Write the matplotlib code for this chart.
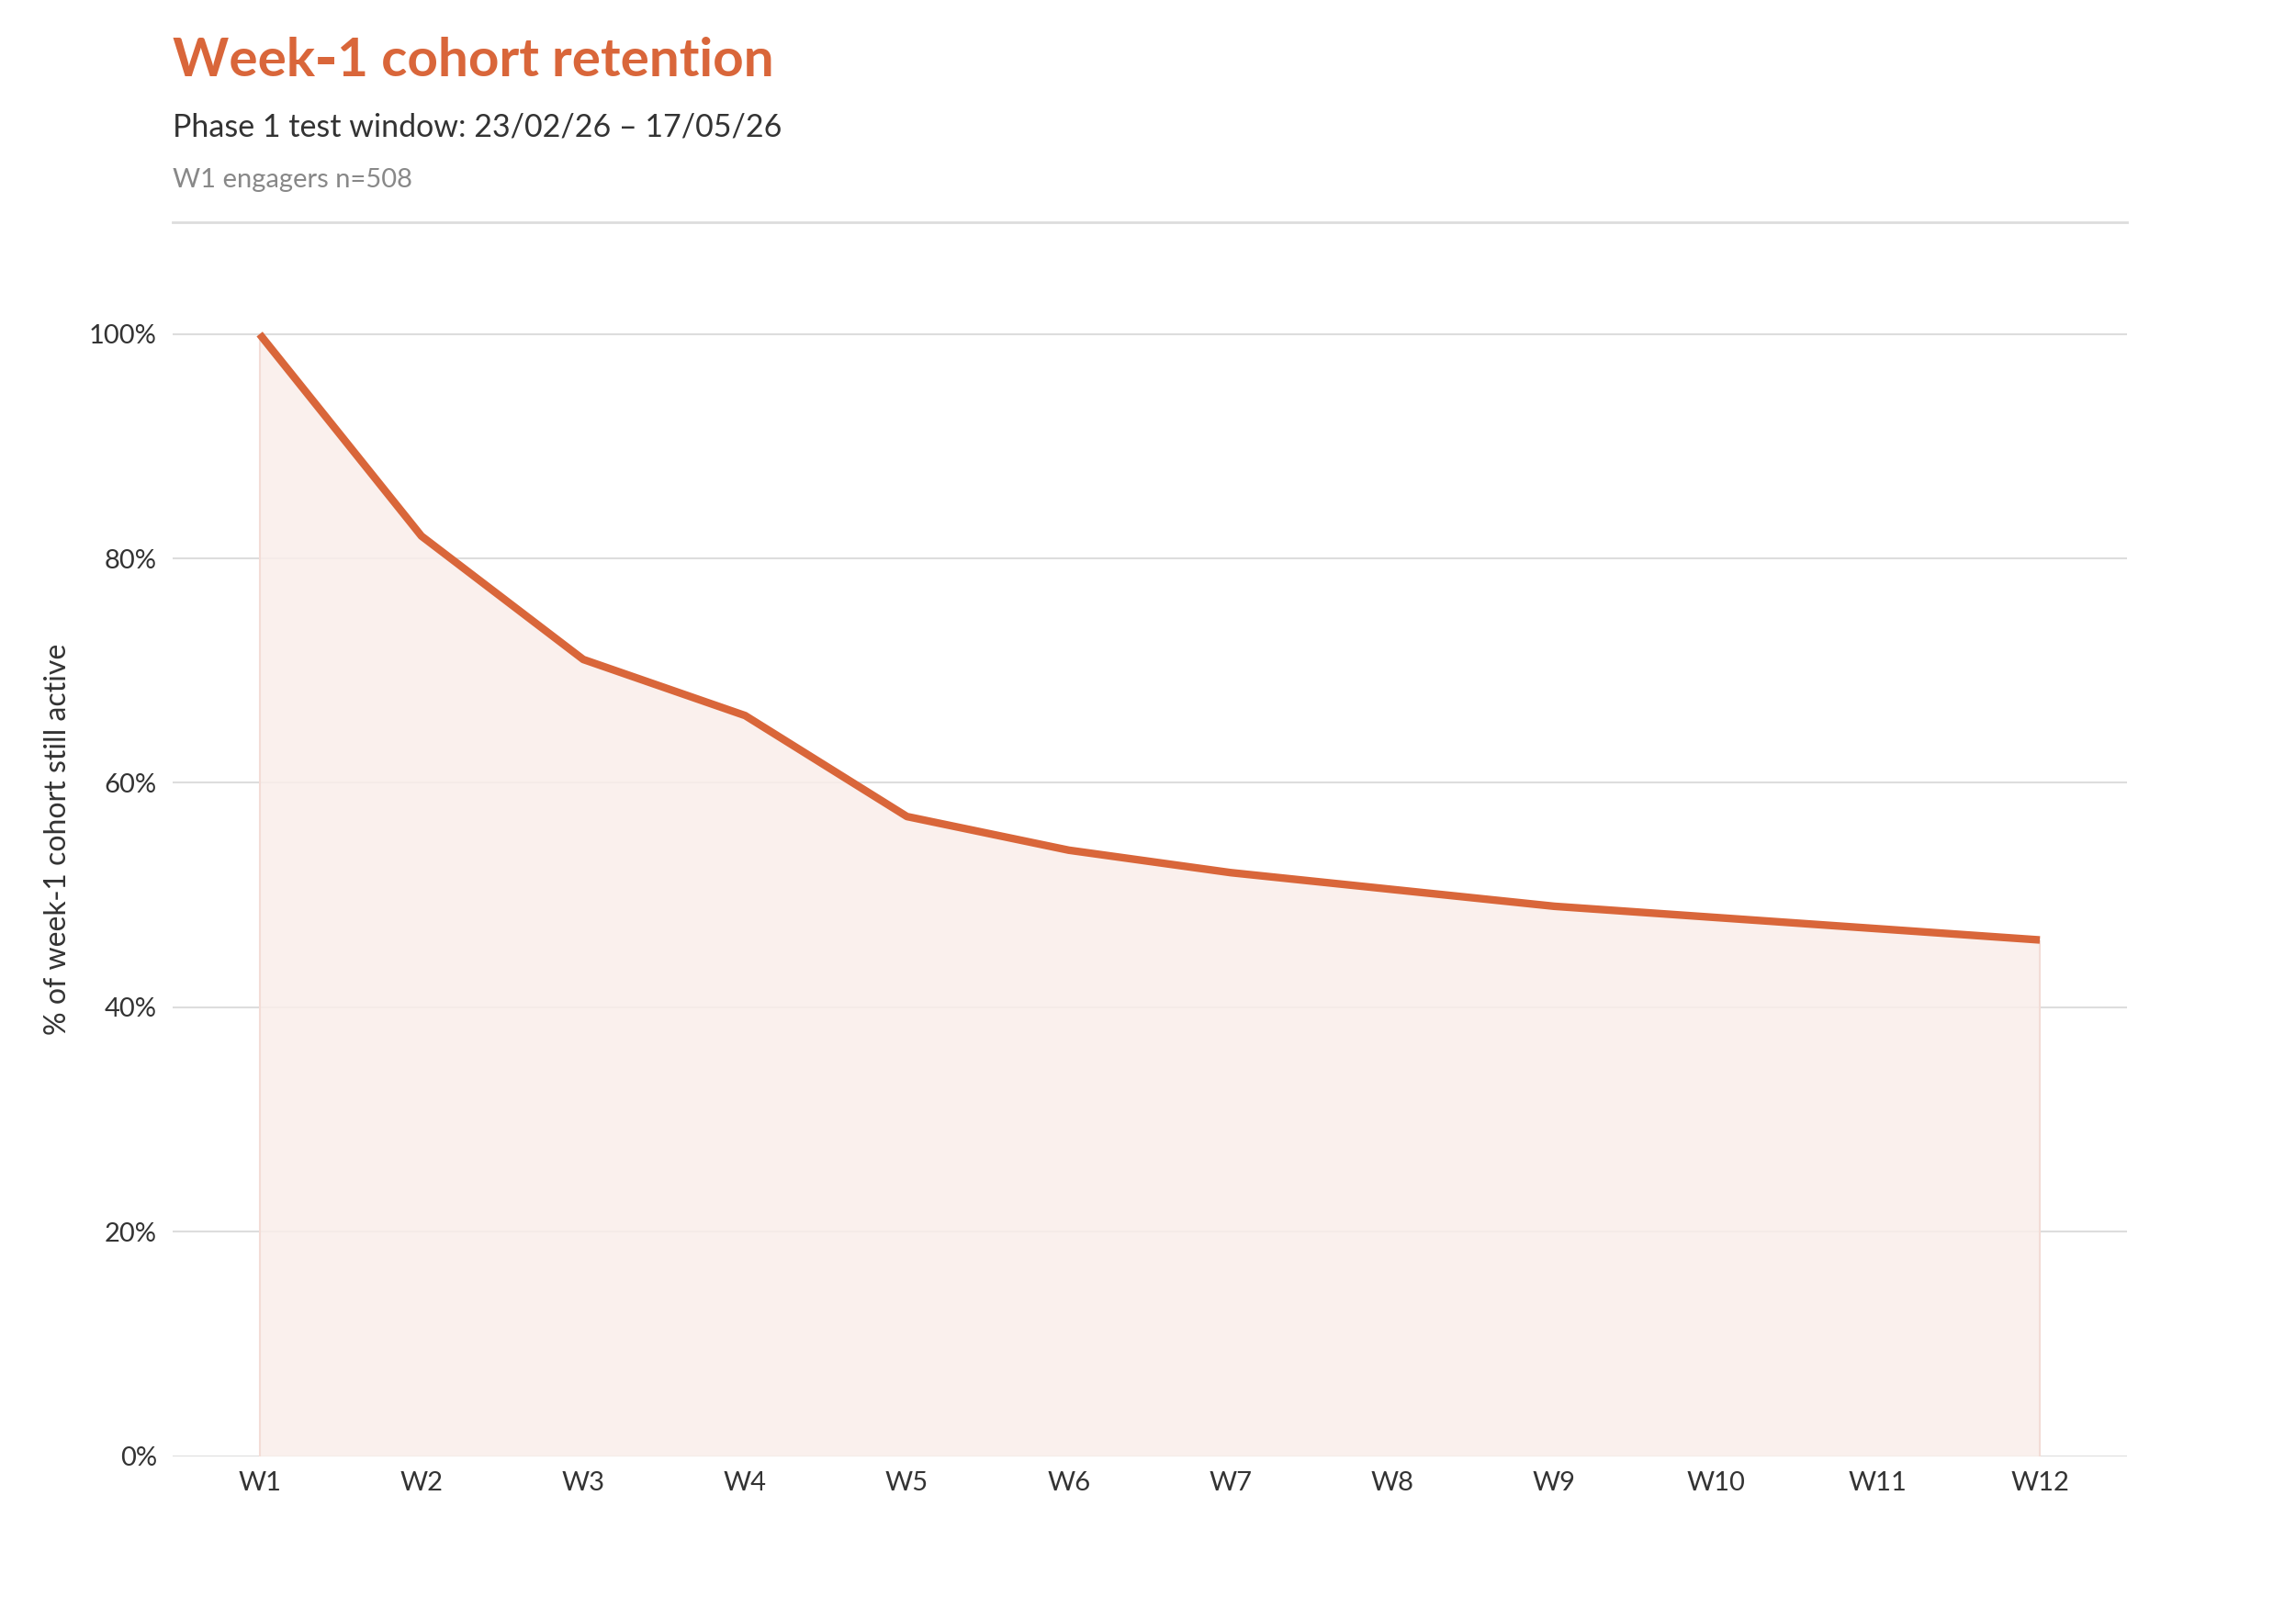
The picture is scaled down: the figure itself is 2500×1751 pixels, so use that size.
import matplotlib
matplotlib.use("Agg")
import matplotlib.pyplot as plt
import numpy as np

weeks = ["W1", "W2", "W3", "W4", "W5", "W6", "W7", "W8", "W9", "W10", "W11", "W12"]
retention = [100, 82, 71, 66, 57, 54, 52, 50.5, 49, 48, 47, 46]
y_ticks = [0, 20, 40, 60, 80, 100]

plt.rcParams["font.family"] = ["Lato", "DejaVu Sans"]
orange = "#D9663A"

fig = plt.figure(figsize=(25, 17.51), dpi=100)
ax = fig.add_axes([0.075, 0.0945, 0.8515, 0.7675])

x = np.arange(len(weeks))
ax.fill_between(x, 0, retention, color="#FAEEEA", alpha=0.85, lw=0)
ax.vlines([x[0], x[-1]], 0, [retention[0], retention[-1]], color="#F3DCD6", lw=1.5)
ax.plot(x, retention, color=orange, lw=6, solid_capstyle="butt", zorder=3)

ax.set_xlim(-0.54, len(weeks) - 1 + 0.54)
ax.set_ylim(0, 110)
ax.set_yticks(y_ticks)
ax.set_yticklabels([f"{v}%" for v in y_ticks])
ax.set_xticks(x)
ax.set_xticklabels(weeks)
ax.grid(axis="y", color="#DDDDDD", lw=1.5)
ax.set_axisbelow(True)
for s in ["left", "right", "bottom"]:
    ax.spines[s].set_visible(False)
ax.spines["top"].set_color("#DDDDDD")
ax.spines["top"].set_linewidth(2)
ax.tick_params(length=0, labelsize=21, colors="#333333", pad=12)
ax.set_ylabel("% of week\u20111 cohort still active", fontsize=23, color="#333333", labelpad=14)

fig.text(0.075, 0.962, "Week\u20111 cohort retention", fontsize=42, fontweight="bold",
         color=orange, va="center")
fig.text(0.075, 0.921, "Phase 1 test window: 23/02/26 \u2013 17/05/26", fontsize=24.5,
         color="#333333", va="center")
fig.text(0.075, 0.888, "W1 engagers n=508", fontsize=21, color="#888888", va="center")

fig.savefig("out.png", dpi=100, facecolor="white")
